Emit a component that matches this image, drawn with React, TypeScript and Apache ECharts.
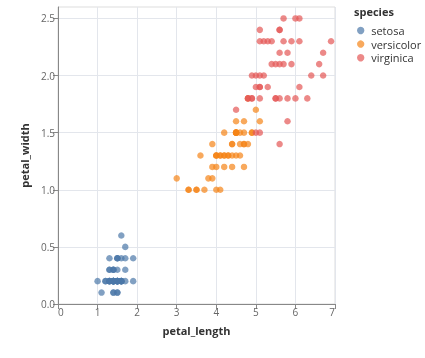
import React, { useEffect, useRef } from "react";
import * as echarts from "echarts";

const species = ["setosa", "versicolor", "virginica"];
const colors = ["#4c78a8", "#f58518", "#e45756"];

const setosaLength = [1.4,1.4,1.3,1.5,1.4,1.7,1.4,1.5,1.4,1.5,1.5,1.6,1.4,1.1,1.2,1.5,1.3,1.4,1.7,1.5,1.7,1.5,1.0,1.7,1.9,1.6,1.6,1.5,1.4,1.6,1.6,1.5,1.5,1.4,1.5,1.2,1.3,1.4,1.3,1.5,1.3,1.3,1.3,1.6,1.9,1.4,1.6,1.4,1.5,1.4];
const setosaWidth = [0.2,0.2,0.2,0.2,0.2,0.4,0.3,0.2,0.2,0.1,0.2,0.2,0.1,0.1,0.2,0.4,0.4,0.3,0.3,0.3,0.2,0.4,0.2,0.5,0.2,0.2,0.4,0.2,0.2,0.2,0.2,0.4,0.1,0.2,0.2,0.2,0.2,0.1,0.2,0.2,0.3,0.3,0.2,0.6,0.4,0.3,0.2,0.2,0.2,0.2];

const versicolorLength = [4.7,4.5,4.9,4.0,4.6,4.5,4.7,3.3,4.6,3.9,3.5,4.2,4.0,4.7,3.6,4.4,4.5,4.1,4.5,3.9,4.8,4.0,4.9,4.7,4.3,4.4,4.8,5.0,4.5,3.5,3.8,3.7,3.9,5.1,4.5,4.5,4.7,4.4,4.1,4.0,4.4,4.6,4.0,3.3,4.2,4.2,4.2,4.3,3.0,4.1];
const versicolorWidth = [1.4,1.5,1.5,1.3,1.5,1.3,1.6,1.0,1.3,1.4,1.0,1.5,1.0,1.4,1.3,1.4,1.5,1.0,1.5,1.1,1.8,1.3,1.5,1.2,1.3,1.4,1.4,1.7,1.5,1.0,1.1,1.0,1.2,1.6,1.5,1.6,1.5,1.3,1.3,1.3,1.2,1.4,1.2,1.0,1.3,1.2,1.3,1.3,1.1,1.3];

const virginicaLength = [6.0,5.1,5.9,5.6,5.8,6.6,4.5,6.3,5.8,6.1,5.1,5.3,5.5,5.0,5.1,5.3,5.5,6.7,6.9,5.0,5.7,4.9,6.7,4.9,5.7,6.0,4.8,4.9,5.6,5.8,6.1,6.4,5.6,5.1,5.6,6.1,5.6,5.5,4.8,5.4,5.6,5.1,5.1,5.9,5.7,5.2,5.0,5.2,5.4,5.1];
const virginicaWidth = [2.5,1.9,2.1,1.8,2.2,2.1,1.7,1.8,1.8,2.5,2.0,1.9,2.1,2.0,2.4,2.3,1.8,2.2,2.3,1.5,2.3,2.0,2.0,1.8,2.1,1.8,1.8,1.8,2.1,1.6,1.9,2.0,2.2,1.5,1.4,2.3,2.4,1.8,1.8,2.1,2.4,2.3,1.9,2.3,2.5,2.3,1.9,2.0,2.3,1.8];

const xTicks = [0, 1, 2, 3, 4, 5, 6, 7];
const yTicks = [0, 0.5, 1, 1.5, 2, 2.5];

const FONT = "Open Sans";

export default function App() {
  const ref = useRef<HTMLDivElement>(null);
  useEffect(() => {
    if (!ref.current) return;
    const chart = echarts.init(ref.current, null, { renderer: "svg" });
    const lengths = [setosaLength, versicolorLength, virginicaLength];
    const widths = [setosaWidth, versicolorWidth, virginicaWidth];
    chart.setOption({
      animation: false,
      textStyle: { fontFamily: FONT },
      title: {
        text: "species",
        left: 349,
        top: 1,
        textStyle: { fontFamily: FONT, fontSize: 11, fontWeight: "bold", color: "#333" },
      },
      legend: {
        orient: "vertical",
        left: 352,
        top: 20,
        icon: "circle",
        itemWidth: 11,
        itemHeight: 7.4,
        itemGap: 2.6,
        data: species,
        textStyle: { fontFamily: FONT, fontSize: 11, color: "#333", padding: [0, 0, 0, 0] },
        itemStyle: { opacity: 0.7 },
      },
      grid: {
        left: 58,
        top: 7,
        right: 90,
        bottom: 54,
        show: true,
        borderColor: "#dddddd",
        borderWidth: 1,
      },
      xAxis: {
        type: "value",
        min: 0,
        max: 7,
        interval: 1,
        name: "petal_length",
        nameLocation: "middle",
        nameGap: 21,
        nameTextStyle: { fontFamily: FONT, fontSize: 11, fontWeight: "bold", color: "#333" },
        axisLine: { lineStyle: { color: "#888" } },
        axisTick: { show: true, length: 5, lineStyle: { color: "#888" }, customValues: xTicks },
        axisLabel: {
          fontFamily: FONT,
          fontSize: 10,
          color: "#666",
          margin: 3,
          customValues: xTicks,
          alignMinLabel: "left",
          alignMaxLabel: "right",
        },
        splitLine: { show: true, lineStyle: { color: "#e3e6ec" } },
      },
      yAxis: {
        type: "value",
        min: 0,
        max: 2.6,
        interval: 0.5,
        name: "petal_width",
        nameLocation: "middle",
        nameGap: 28,
        nameTextStyle: { fontFamily: FONT, fontSize: 11, fontWeight: "bold", color: "#333" },
        axisLine: { show: true, lineStyle: { color: "#888" } },
        axisTick: { show: true, length: 5, lineStyle: { color: "#888" }, customValues: yTicks },
        axisLabel: {
          fontFamily: FONT,
          fontSize: 10,
          color: "#666",
          margin: 3,
          customValues: yTicks,
          formatter: (v: number) => v.toFixed(1),
        },
        splitLine: { show: true, lineStyle: { color: "#e3e6ec" } },
      },
      series: species.map((s, i) => ({
        name: s,
        type: "scatter",
        symbol: "circle",
        symbolSize: 6.5,
        itemStyle: { color: colors[i], opacity: 0.7 },
        data: lengths[i].map((l, j) => [l, widths[i][j]]),
      })),
    });
    return () => chart.dispose();
  }, []);
  return (
    <div
      ref={ref}
      style={{ position: "fixed", left: 0, top: 0, width: 425, height: 358 }}
    />
  );
}
